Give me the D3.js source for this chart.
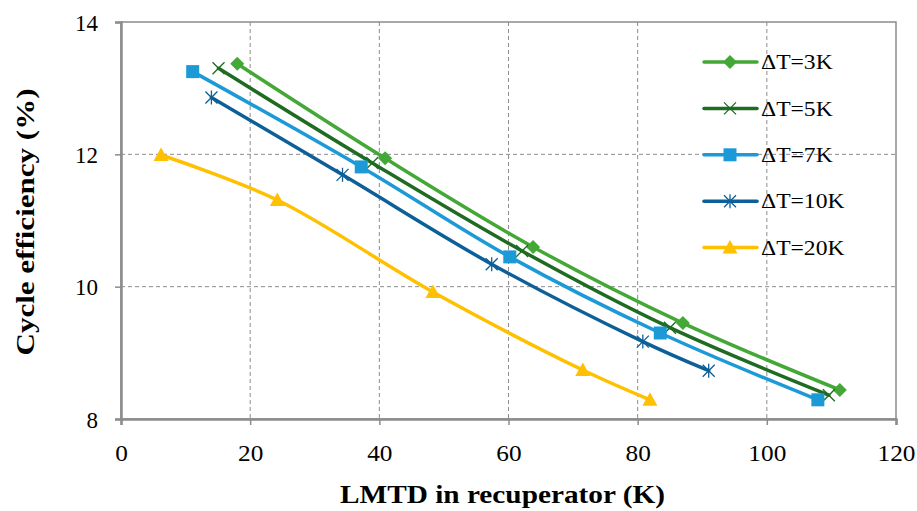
<!DOCTYPE html>
<html>
<head>
<meta charset="utf-8">
<script src="https://cdn.jsdelivr.net/npm/d3@7"></script>
<style>
  body { margin: 0; background: #fff; }
  svg text { font-family: "Liberation Serif", "DejaVu Serif", serif; fill: #000; }
</style>
</head>
<body>
<svg id="chart"></svg>
<script>
// series data
var seriesNames = ['\u0394T=3K', '\u0394T=5K', '\u0394T=7K', '\u0394T=10K', '\u0394T=20K'];
var lmtd3 = [18.0, 40.9, 63.8, 87.0, 111.3];
var eff3 = [13.37, 11.94, 10.60, 9.45, 8.44];
var lmtd5 = [15.1, 38.9, 62.1, 85.0, 109.6];
var eff5 = [13.30, 11.87, 10.54, 9.38, 8.36];
var lmtd7 = [11.1, 37.2, 60.2, 83.5, 107.9];
var eff7 = [13.25, 11.81, 10.45, 9.30, 8.29];
var lmtd10 = [14.0, 34.3, 57.4, 80.8, 91.0];
var eff10 = [12.86, 11.69, 10.34, 9.17, 8.73];
var lmtd20 = [6.2, 24.2, 48.3, 71.5, 81.9];
var eff20 = [11.99, 11.31, 9.92, 8.74, 8.29];
var xTicks = [0, 20, 40, 60, 80, 100, 120];
var yTicks = [8, 10, 12, 14];

var colors = ['#43a836', '#1f6b22', '#1c9ad8', '#0d5f98', '#ffc000'];
var markers = ['diamond', 'x', 'square', 'asterisk', 'triangle'];

var W = 917, H = 511;
var margin = { left: 121, right: 21, top: 22, bottom: 92 };

var svg = d3.select('#chart').attr('width', W).attr('height', H);

var x = d3.scaleLinear().domain([0, 120]).range([margin.left, W - margin.right]);
var y = d3.scaleLinear().domain([8, 14]).range([H - margin.bottom, margin.top]);

var series = [
  { name: seriesNames[0], xs: lmtd3, ys: eff3 },
  { name: seriesNames[1], xs: lmtd5, ys: eff5 },
  { name: seriesNames[2], xs: lmtd7, ys: eff7 },
  { name: seriesNames[3], xs: lmtd10, ys: eff10 },
  { name: seriesNames[4], xs: lmtd20, ys: eff20 }
];

// the original uses a wide serif (Palatino-like), so widen the text a little
function widen(sel, factor) {
  sel.each(function () {
    var len = this.getComputedTextLength();
    d3.select(this).attr('textLength', len * factor).attr('lengthAdjust', 'spacingAndGlyphs');
  });
}

// grid
var grid = svg.append('g');
grid.selectAll('.vg').data(xTicks.slice(1, -1)).enter().append('line')
  .attr('x1', function (d) { return x(d); }).attr('x2', function (d) { return x(d); })
  .attr('y1', y(14)).attr('y2', y(8))
  .attr('stroke', '#8c8c8c').attr('stroke-width', 1).attr('stroke-dasharray', '4,3');
grid.selectAll('.hg').data(yTicks.slice(1, -1)).enter().append('line')
  .attr('x1', x(0)).attr('x2', x(120))
  .attr('y1', function (d) { return y(d); }).attr('y2', function (d) { return y(d); })
  .attr('stroke', '#8c8c8c').attr('stroke-width', 1).attr('stroke-dasharray', '4,3');

// border
svg.append('rect')
  .attr('x', x(0)).attr('y', y(14))
  .attr('width', x(120) - x(0)).attr('height', y(8) - y(14))
  .attr('fill', 'none').attr('stroke', '#8c8c8c').attr('stroke-width', 1.5);

// axes
var xAxis = d3.axisBottom(x).tickValues(xTicks).tickFormat(d3.format('d')).tickSize(6).tickPadding(20);
var gx = svg.append('g').attr('transform', 'translate(0,' + y(8) + ')').call(xAxis);
var yAxis = d3.axisLeft(y).tickValues(yTicks).tickFormat(d3.format('d')).tickSize(6).tickPadding(17);
var gy = svg.append('g').attr('transform', 'translate(' + x(0) + ',0)').call(yAxis);
[gx, gy].forEach(function (g) {
  g.attr('font-family', null);
  g.select('.domain').attr('stroke', '#8c8c8c').attr('stroke-width', 2.5);
  g.selectAll('.tick line').attr('stroke', '#8c8c8c').attr('stroke-width', 1.5);
  g.selectAll('.tick text').attr('font-size', 23).style('font-family', '"Liberation Serif", serif');
});
gy.selectAll('.tick text').attr('dy', '0.35em');
widen(gx.selectAll('.tick text'), 1.1);

// titles
svg.append('text').attr('x', x(60) - 6).attr('y', 503)
  .attr('text-anchor', 'middle').attr('font-size', 26).attr('font-weight', 'bold')
  .attr('textLength', 325).attr('lengthAdjust', 'spacingAndGlyphs')
  .text('LMTD in recuperator (K)');
svg.append('text').attr('transform', 'translate(34,222) rotate(-90)')
  .attr('text-anchor', 'middle').attr('font-size', 26).attr('font-weight', 'bold')
  .attr('textLength', 267).attr('lengthAdjust', 'spacingAndGlyphs')
  .text('Cycle efficiency (%)');

function drawMarker(g, type, color) {
  if (type === 'diamond') {
    g.append('path').attr('d', 'M0,-7L7,0L0,7L-7,0Z').attr('fill', color);
  } else if (type === 'square') {
    g.append('rect').attr('x', -6.5).attr('y', -6.5).attr('width', 13).attr('height', 13).attr('fill', color);
  } else if (type === 'triangle') {
    g.append('path').attr('d', 'M0,-7.5L7.5,6L-7.5,6Z').attr('fill', color);
  } else if (type === 'x') {
    g.append('path').attr('d', 'M-6,-6L6,6M-6,6L6,-6').attr('stroke', color).attr('stroke-width', 1.3);
  } else if (type === 'asterisk') {
    g.append('path').attr('d', 'M-6,-6L6,6M-6,6L6,-6M0,-7L0,7').attr('stroke', color).attr('stroke-width', 1.3);
  }
}

var line = d3.line()
  .x(function (d) { return x(d[0]); })
  .y(function (d) { return y(d[1]); })
  .curve(d3.curveCatmullRom.alpha(0.5));

var plot = svg.append('g');
series.forEach(function (s, i) {
  var pts = s.xs.map(function (v, j) { return [v, s.ys[j]]; });
  plot.append('path').datum(pts).attr('d', line)
    .attr('fill', 'none').attr('stroke', colors[i]).attr('stroke-width', 3.5)
    .attr('stroke-linecap', 'round');
  pts.forEach(function (p) {
    var g = plot.append('g').attr('transform', 'translate(' + x(p[0]) + ',' + y(p[1]) + ')');
    drawMarker(g, markers[i], colors[i]);
  });
});

// legend
var legend = svg.append('g');
series.forEach(function (s, i) {
  var ly = 62 + i * 46.4;
  var row = legend.append('g').attr('transform', 'translate(0,' + ly + ')');
  row.append('line').attr('x1', 704).attr('x2', 757).attr('y1', 0).attr('y2', 0)
    .attr('stroke', colors[i]).attr('stroke-width', 3.5).attr('stroke-linecap', 'round');
  var m = row.append('g').attr('transform', 'translate(730,0)');
  drawMarker(m, markers[i], colors[i]);
  var t = row.append('text').attr('x', 761).attr('y', 0).attr('dy', '0.35em')
    .attr('font-size', 20.5).text(s.name);
  widen(t, 1.15);
});
</script>
</body>
</html>
